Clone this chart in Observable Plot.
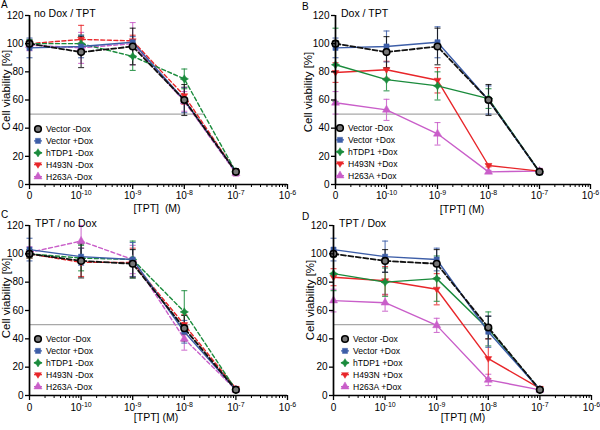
<!DOCTYPE html>
<html><head><meta charset="utf-8">
<script src="https://cdn.jsdelivr.net/npm/d3@7"></script>
<script src="https://cdn.jsdelivr.net/npm/@observablehq/plot@0.6"></script>
<style>
body{margin:0;background:#fff;}
#wrap{position:relative;width:600px;height:430px;font-family:"Liberation Sans",Arial,sans-serif;overflow:hidden;}
.panel{position:absolute;}
#overlay{position:absolute;left:0;top:0;pointer-events:none;}
</style></head><body><div id="wrap"></div>
<script>
// ---- data ----
const concentrations = [0, 1e-10, 1e-9, 1e-8, 1e-7];
const xTickPositions = [-11, -10, -9, -8, -7, -6];
const xTickLabels = ["0", "10^-10", "10^-9", "10^-8", "10^-7", "10^-6"];
const yTicks = [0, 20, 40, 60, 80, 100, 120];

const panelLetters = ["A", "B", "C", "D"];
const panelTitles = ["no Dox / TPT", "Dox / TPT", "TPT / no Dox", "TPT / Dox"];
const xLabels = ["[TPT]  (M)", "[TPT] (M)", "[TPT] (M)", "[TPT] (M)"];
const yLabel = "Cell viability [%]";

const namesA = ["Vector -Dox", "Vector +Dox", "hTDP1 -Dox", "H493N -Dox", "H263A -Dox"];
const meansA = [
  [100, 94, 98, 60, 9],
  [97, 98, 101, 60, 9],
  [100, 100, 91, 75, 9],
  [100, 103, 102, 63, 9],
  [99, 97, 100, 59, 8]
];
const errsA = [
  [2, 11, 13, 11, 2],
  [7, 8, 4, 9, 2],
  [3, 6, 10, 7, 2],
  [2, 10, 4, 6, 2],
  [4, 11, 15, 7, 2]
];

const namesB = ["Vector -Dox", "Vector +Dox", "hTDP1 +Dox", "H493N +Dox", "H263A +Dox"];
const meansB = [
  [100, 94, 98, 60, 9],
  [97, 98, 101, 60, 9],
  [85, 74.5, 70, 61, 9],
  [79.5, 81.5, 74, 13.5, 9.5],
  [58, 53, 36, 9, 9.5]
];
const errsB = [
  [2, 11, 13, 11, 2],
  [7, 11, 11, 10, 2],
  [26, 8, 10, 7, 2],
  [7, 6, 9, 1, 1],
  [8, 7.5, 8, 1, 2]
];

const namesC = ["Vector -Dox", "Vector +Dox", "hTDP1 -Dox", "H493N -Dox", "H263A -Dox"];
const meansC = [
  [100, 95, 93, 47.5, 4],
  [103, 98, 96, 45, 4],
  [100, 97, 96, 59, 4],
  [100, 94, 94, 50, 5],
  [101, 109, 96, 40, 4]
];
const errsC = [
  [2, 12, 10, 9, 1],
  [8, 6, 12, 8, 1],
  [3, 9, 13, 15, 1],
  [3, 10, 10, 7, 1],
  [4, 11, 10, 8, 1]
];

const namesD = ["Vector -Dox", "Vector +Dox", "hTDP1 +Dox", "H493N +Dox", "H263A +Dox"];
const meansD = [
  [100, 95, 93, 48, 4],
  [103, 98, 96, 45, 4],
  [86, 80, 82.5, 47, 4],
  [83.5, 81, 75, 26, 5],
  [67, 65.5, 49.5, 11, 4]
];
const errsD = [
  [2, 8, 10, 8, 1],
  [8, 11, 8, 11, 1],
  [12, 10, 16, 12, 1],
  [6, 10, 11, 14, 1],
  [8, 6, 5, 4, 1]
];

const refLineEnds = [-7.6, -7.8, -7.88, -8.0]; // where the grey 50 % line stops (log10 M)
const dashedFlags = [
  [true, false, true, true, true],
  [true, false, false, false, false],
  [true, false, true, true, true],
  [true, false, false, false, false]
];

// ---- styling ----
const colors = ["#111111", "#3d5ea8", "#1a8b3c", "#e8262a", "#c95ec9"];
const capSym = {draw(ctx, size){const w = Math.sqrt(size/Math.PI); ctx.moveTo(-w,0); ctx.lineTo(w,0);}};
const triDown = {draw(ctx, size){const r = Math.sqrt(size/Math.PI)*1.15; ctx.moveTo(-r,-r*0.6); ctx.lineTo(r,-r*0.6); ctx.lineTo(0,r*1.05); ctx.closePath();}};
const star4 = {draw(ctx, size){const r = Math.sqrt(size/Math.PI)*1.3, q = r*0.38; ctx.moveTo(0,-r); ctx.lineTo(q,-q); ctx.lineTo(r,0); ctx.lineTo(q,q); ctx.lineTo(0,r); ctx.lineTo(-q,q); ctx.lineTo(-r,0); ctx.lineTo(-q,-q); ctx.closePath();}};
const symbols = ["circle", "square", star4, triDown, "triangle"];
const symR = [3.3, 2.9, 3.2, 3.0, 3.0];

const layouts = [
  {ox:0,   oy:0,   ml:29, mr:13, mt:15, mb:31, pad:2},
  {ox:300, oy:0,   ml:35, mr:10, mt:15, mb:31, pad:2},
  {ox:0,   oy:215, ml:29, mr:13, mt:10, mb:35, pad:3},
  {ox:300, oy:215, ml:33, mr:9,  mt:10, mb:35, pad:3}
];
const panels = [
  {names:namesA, means:meansA, errs:errsA},
  {names:namesB, means:meansB, errs:errsB},
  {names:namesC, means:meansC, errs:errsC},
  {names:namesD, means:meansD, errs:errsD}
];

const xpos = c => c === 0 ? -11 : Math.log10(c);
const minorTicks = [];
for (let d = -11; d < -6; d++) for (let k = 2; k <= 9; k++) minorTicks.push(d + Math.log10(k));

const wrap = document.getElementById("wrap");

panels.forEach((p, pi) => {
  const L = layouts[pi];
  const rows = [];
  p.names.forEach((name, i) => concentrations.forEach((c, j) => rows.push({
    s: i, name, x: xpos(c), y: p.means[i][j], lo: p.means[i][j] - p.errs[i][j], hi: p.means[i][j] + p.errs[i][j]
  })));
  const marks = [
    Plot.ruleY([50], {x1: -11, x2: refLineEnds[pi], stroke: "#a8a8a8", strokeWidth: 1.4})
  ];
  const order = [4, 3, 2, 1, 0];
  order.forEach(i => {
    const d = rows.filter(r => r.s === i);
    marks.push(
      Plot.ruleX(d, {x: "x", y1: "lo", y2: "hi", stroke: colors[i], strokeWidth: 1.1, strokeOpacity: 0.85}),
      Plot.dot(d, {x: "x", y: "hi", symbol: capSym, r: 3, stroke: colors[i], strokeWidth: 1.1, strokeOpacity: 0.85}),
      Plot.dot(d, {x: "x", y: "lo", symbol: capSym, r: 3, stroke: colors[i], strokeWidth: 1.1, strokeOpacity: 0.85})
    );
  });
  order.forEach(i => {
    const d = rows.filter(r => r.s === i);
    marks.push(
      Plot.line(d, {x: "x", y: "y", stroke: colors[i], strokeWidth: i === 0 ? 1.8 : 1.4,
        strokeDasharray: dashedFlags[pi][i] ? (i === 0 ? "5,2.5" : "4,2.5") : null}),
      i === 0
        ? Plot.dot(d, {x: "x", y: "y", symbol: "circle", r: symR[0], fill: "#777", stroke: "#000", strokeWidth: 1.6})
        : Plot.dot(d, {x: "x", y: "y", symbol: symbols[i], r: symR[i], fill: colors[i], stroke: colors[i], strokeWidth: 0.5})
    );
  });
  marks.push(
    Plot.axisY({ticks: yTicks, tickSize: 4, tickPadding: 2, label: null, strokeWidth: 1.3, fontSize: 10}),
    Plot.axisX({ticks: xTickPositions, tickFormat: d => xTickLabels[xTickPositions.indexOf(d)], tickSize: 5, tickPadding: L.pad, label: null, strokeWidth: 1.3, fontSize: 10}),
    Plot.axisX({ticks: minorTicks, tickFormat: () => "", tickSize: 3, label: null, strokeWidth: 1}),
    Plot.ruleX([-11], {y1: 0, y2: 120, stroke: "#000", strokeWidth: 1.7}),
    Plot.ruleY([0], {x1: -11, x2: -6, stroke: "#000", strokeWidth: 1.7})
  );
  const chart = Plot.plot({
    width: 300, height: 215,
    marginLeft: L.ml, marginRight: L.mr, marginTop: L.mt, marginBottom: L.mb,
    x: {type: "linear", domain: [-11, -6]},
    y: {domain: [0, 120]},
    style: {fontFamily: "Liberation Sans, Arial, sans-serif", color: "#000", background: "transparent", overflow: "visible"},
    marks
  });
  // turn "10^-9" tick labels into base + raised exponent
  chart.querySelectorAll("text").forEach(t => {
    const s = t.textContent;
    if (s.includes("^")) {
      const [b, e] = s.split("^");
      t.textContent = "";
      const ns = "http://www.w3.org/2000/svg";
      const t1 = document.createElementNS(ns, "tspan"); t1.textContent = b;
      const t2 = document.createElementNS(ns, "tspan"); t2.textContent = e;
      t2.setAttribute("dy", "-4"); t2.setAttribute("font-size", "7");
      t.appendChild(t1); t.appendChild(t2);
    }
  });
  chart.classList.add("panel");
  chart.style.left = L.ox + "px";
  chart.style.top = L.oy + "px";
  wrap.appendChild(chart);
});

// ---- overlay: letters, titles, axis labels, legends ----
const svg = d3.select(wrap).append("svg").attr("id", "overlay").attr("width", 600).attr("height", 430)
  .style("font-family", "Liberation Sans, Arial, sans-serif");
const letterPos = [[1, 8], [302, 10], [1, 218], [302, 220]];
const titlePos = [[34, 17], [341, 17], [35, 227], [339, 227]];
const xLabelPos = [[157, 212], [462, 213], [156, 421], [463, 421]];
const yLabelPos = [[6, 90], [308, 92], [6, 298], [310, 300]];
const legendPos = [[38, 129], [340, 128], [38, 339], [345, 339]];
const legendStep = 11.9;

panels.forEach((p, pi) => {
  svg.append("text").attr("x", letterPos[pi][0]).attr("y", letterPos[pi][1]).attr("font-size", 10).text(panelLetters[pi]);
  svg.append("text").attr("x", titlePos[pi][0]).attr("y", titlePos[pi][1]).attr("font-size", 10.5).text(panelTitles[pi]);
  svg.append("text").attr("x", xLabelPos[pi][0]).attr("y", xLabelPos[pi][1]).attr("font-size", 10.5)
    .attr("text-anchor", "middle").style("white-space", "pre").text(xLabels[pi]);
  svg.append("text").attr("transform", `translate(${yLabelPos[pi][0]},${yLabelPos[pi][1]}) rotate(-90)`)
    .attr("font-size", 11.5).attr("text-anchor", "middle").attr("dy", "0.35em").text(yLabel);
  const g = svg.append("g");
  p.names.forEach((name, i) => {
    const x = legendPos[pi][0], y = legendPos[pi][1] + i * legendStep;
    g.append("line").attr("x1", x - 4).attr("x2", x + 4).attr("y1", y).attr("y2", y)
      .attr("stroke", colors[i]).attr("stroke-width", 1.2);
    const sym = typeof symbols[i] === "string"
      ? {circle: d3.symbolCircle, square: d3.symbolSquare, triangle: d3.symbolTriangle}[symbols[i]]
      : symbols[i];
    const path = d3.symbol(sym, Math.PI * symR[i] * symR[i])();
    g.append("path").attr("d", path).attr("transform", `translate(${x},${y})`)
      .attr("fill", i === 0 ? "#777" : colors[i]).attr("stroke", i === 0 ? "#000" : colors[i])
      .attr("stroke-width", i === 0 ? 1.6 : 0.5);
    g.append("text").attr("x", x + 8).attr("y", y).attr("dy", "0.35em").attr("font-size", 8.6).text(name);
  });
});
</script>
</body></html>
